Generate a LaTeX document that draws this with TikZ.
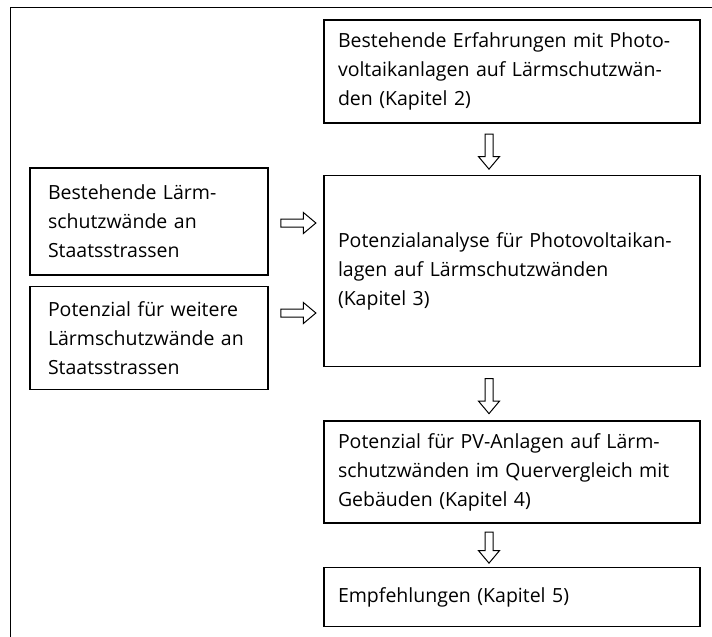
\documentclass[tikz,border=0pt]{standalone}
\usepackage{fontspec}
\setmainfont{Open Sans}
\usetikzlibrary{shapes,arrows,positioning}
\usetikzlibrary{calc}
\tikzstyle{block} = [rectangle, draw, line width=1.5pt, text width=348pt, align=left, inner xsep=14pt, inner ysep=0pt, font=\fontsize{19.5}{29}\selectfont]
\tikzstyle{sideblock} = [block, text width=202pt, inner xsep=18pt]
\tikzstyle{fatarrow} = [single arrow, draw, line width=1pt, inner sep=3.5pt, minimum height=35pt, single arrow head extend=6.5pt, single arrow tip angle=80]

\begin{document}
\begin{tikzpicture}[x=1pt,y=-1pt,node distance=10pt]
            \useasboundingbox (0,0) rectangle (712,637);
            \draw[line width=1pt] (10,637) -- (10,7) -- (712,7);

            \node [block, minimum height=103pt] (exp) at (512,71.5) {Bestehende Erfahrungen mit Photo-\\voltaikanlagen auf Lärmschutzwän-\\den (Kapitel 2)};
            \node [block, minimum height=191pt, below=51pt of exp] (ana) {Potenzialanalyse für Photovoltaikan-\\lagen auf Lärmschutzwänden\\(Kapitel 3)};
            \node [block, minimum height=102pt, below=53pt of ana] (cmp) {Potenzial für PV-Anlagen auf Lärm-\\schutzwänden im Quervergleich mit\\Gebäuden (Kapitel 4)};
            \node [block, minimum height=59pt, below=43pt of cmp] (rec) {Empfehlungen (Kapitel 5)};

            \node [sideblock, minimum height=107pt] (lsw) at (149,221.5) {Bestehende Lärm-\\schutzwände an\\Staatsstrassen};
            \node [sideblock, minimum height=103pt, below= of lsw] (pot) {Potenzial für weitere\\Lärmschutzwände an\\Staatsstrassen};

            \coordinate (col) at (489,0);
            \coordinate (row1) at (0,223);
            \coordinate (row2) at (0,313);

            \path (exp.south -| col) -- node[fatarrow, rotate=-90] (a1) {} (ana.north -| col);
            \path (ana.south -| col) -- node[fatarrow, rotate=-90] (a2) {} (cmp.north -| col);
            \path (cmp.south -| col) -- node[fatarrow, rotate=-90, minimum height=31pt] (a3) {} (rec.north -| col);

            \path (lsw.east |- row1) -- node[fatarrow] (a4) {} (ana.west |- row1);
            \path (pot.east |- row2) -- node[fatarrow] (a5) {} (ana.west |- row2);
        \end{tikzpicture}
\end{document}
